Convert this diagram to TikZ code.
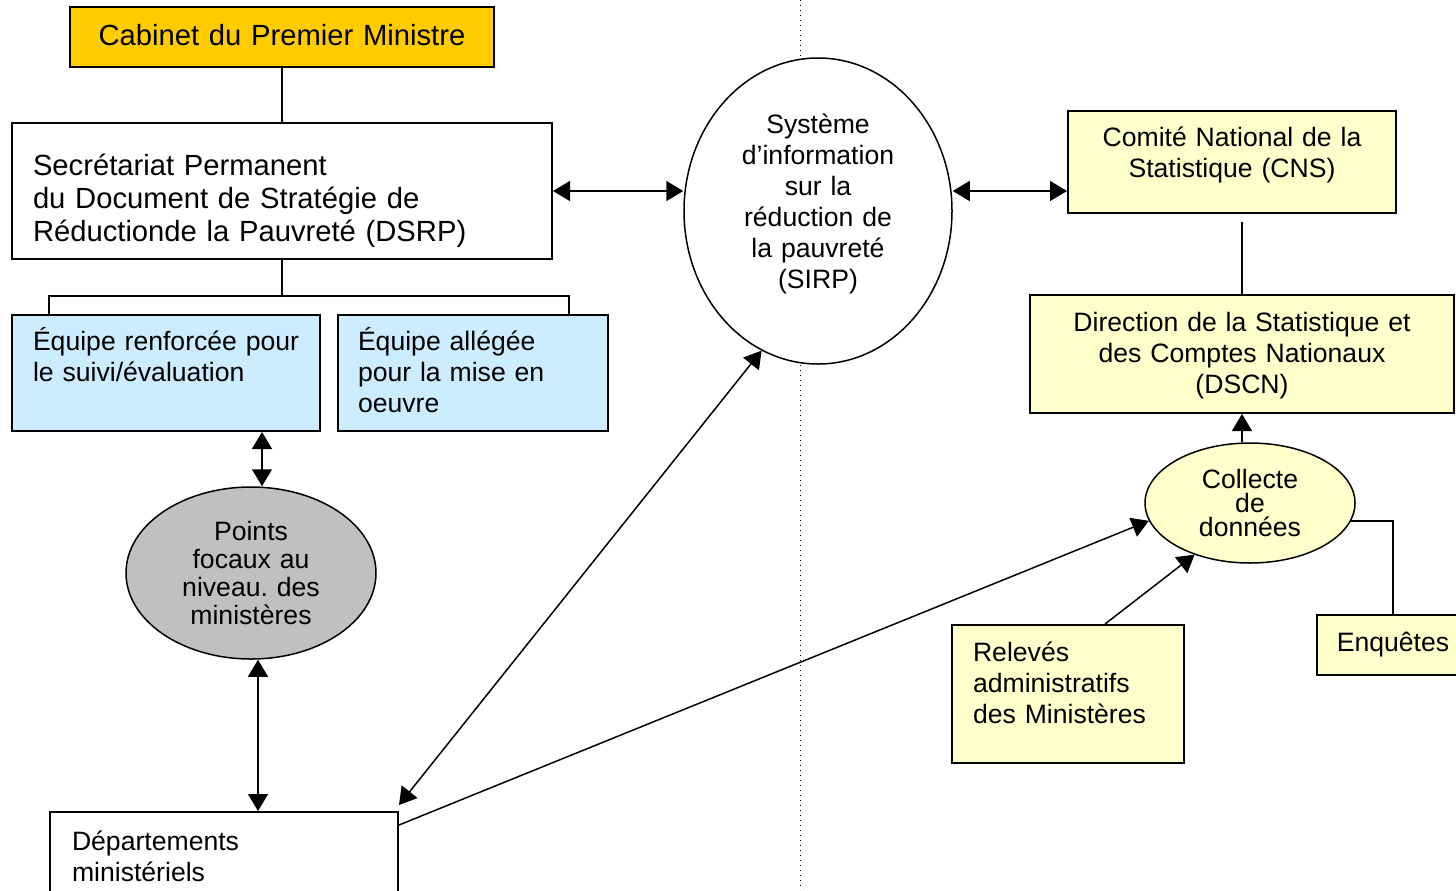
\documentclass[tikz,border=0pt]{standalone}
\usepackage{fontspec}
\setmainfont{Liberation Sans}
\usetikzlibrary{shapes.geometric,arrows.meta,backgrounds}
\frenchspacing

\definecolor{cabinetgold}{HTML}{FFCC00}
\definecolor{teamblue}{HTML}{CCECFF}
\definecolor{statyellow}{HTML}{FFFFCC}
\definecolor{focalgray}{HTML}{C0C0C0}

\begin{document}
\begin{tikzpicture}[
    x=0.5pt,y=-0.5pt,
    font=\fontsize{13.3pt}{15.5pt}\selectfont,line width=0.75pt,
    show background rectangle,background rectangle/.style={fill=white},
    inner frame sep=0pt,
    box/.style={draw,line width=1pt,inner ysep=0pt,align=left},
    bigtext/.style={font=\fontsize{14.6pt}{16.5pt}\selectfont},
    oval/.style={draw,ellipse,inner sep=0pt,align=center},
    link/.style={{Triangle[length=8.5pt,width=10pt]}-{Triangle[length=8.5pt,width=10pt]}},
    feed/.style={-{Triangle[length=8.5pt,width=10pt]}}
]
\useasboundingbox (0,0) rectangle (1456,890);

% divider
\coordinate (divtop) at (800,0);
\coordinate (divbot) at (800,890);
\draw[dotted,line width=0.5pt] (divtop) -- (divbot);

% left side
\node[box,bigtext,fill=cabinetgold,text width=202pt,inner xsep=5pt,align=center,
    text height=19pt,text depth=11pt] (cabinet) at (282,37) {Cabinet du Premier Ministre};
\node[box,bigtext,text width=249pt,inner xsep=10.5pt,text height=26pt,text depth=42pt] (sp) at (282,191)
    {Secrétariat Permanent\\du Document de Stratégie de\\Réductionde la Pauvreté (DSRP)};
\node[box,fill=teamblue,text width=133pt,inner xsep=10.5pt,text height=17.5pt,text depth=40.5pt]
    (suivi) at (166,373) {\mbox{Équipe renforcée pour}\\le suivi/évaluation};
\node[box,fill=teamblue,text width=115pt,inner xsep=10pt,text height=17.5pt,text depth=40.5pt]
    (miseoeuvre) at (473,373) {Équipe allégée\\pour la mise en\\oeuvre};
\node[oval,fill=focalgray,minimum width=125pt,minimum height=86pt,text width=80pt,
    font=\fontsize{13.3pt}{14pt}\selectfont] (points) at (251,573)
    {Points\\focaux au\\niveau. des\\ministères};
\node[box,text width=152pt,inner xsep=11pt,text height=19pt,text depth=25pt] (dept) at (224,856)
    {Départements\\ministériels};

% centre
\node[oval,fill=white,minimum width=134pt,minimum height=153pt,text width=90pt,
    text height=10pt,text depth=87.5pt] (sirp) at (818,211)
    {Système\\d’information\\sur la\\réduction de\\la pauvreté\\(SIRP)};

% right side
\node[box,fill=statyellow,text width=154pt,inner xsep=5pt,align=center,text height=17.5pt,text depth=33.5pt]
    (cns) at (1232,162) {Comité National de la\\Statistique (CNS)};
\node[box,fill=statyellow,text width=202pt,inner xsep=5pt,align=center,text height=18pt,text depth=41pt]
    (dscn) at (1242,354) {Direction de la Statistique et\\des Comptes Nationaux\\(DSCN)};
\node[oval,fill=statyellow,minimum width=105pt,minimum height=60pt,text width=60pt,
    font=\fontsize{13.3pt}{12pt}\selectfont] (collecte) at (1250,503) {Collecte\\de\\données};
\node[box,fill=statyellow,text width=95pt,inner xsep=10.5pt,text height=18pt,text depth=51pt]
    (releves) at (1068,694) {Relevés\\administratifs\\des Ministères};
\node[box,fill=statyellow,text width=66pt,inner xsep=5pt,align=center,text height=18pt,text depth=12pt]
    (enquetes) at (1393,645) {Enquêtes};

% hierarchy
\draw (cabinet) -- (sp);
\draw (sp.south) -- ++(0,36) coordinate (fork);
\draw (fork) -| ([xshift=19pt]suivi.north west);
\draw (fork) -| ([xshift=-20pt]miseoeuvre.north east);
\draw (dscn.north) -- ++(0,-72);

% exchanges
\draw[link] ([xshift=48pt]suivi.south) -- ([xshift=5.5pt]points.north);
\draw[link] ([xshift=3.5pt]points.south) -- ([xshift=17pt]dept.north);
\draw[link] (sp.east) -- (sp.east -| sirp.west);
\draw[link] (sirp.east |- sp.east) -- (cns.west |- sp.east);
\draw[link] ([yshift=3pt]dept.north east) -- (sirp.248);
\draw[feed] ([yshift=-7pt]dept.north east) -- (collecte.190);
\draw[feed] ([xshift=18.5pt]releves.north) -- (collecte.223);
\draw[feed] (collecte.north -| dscn.south) -- (dscn.south);
\draw (collecte.-10) -| (enquetes.north);

\end{tikzpicture}
\end{document}
